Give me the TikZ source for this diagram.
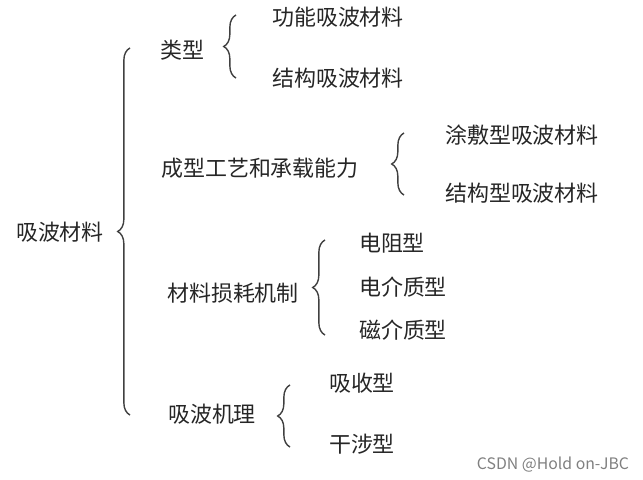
\documentclass[tikz,border=0pt]{standalone}
\usepackage{fontspec}
\setmainfont{Noto Sans CJK SC}
\usetikzlibrary{decorations.pathreplacing}
\begin{document}
\begin{tikzpicture}[x=0.02cm, y=-0.02cm,
    item/.style={font=\fontsize{12.5}{14}\selectfont, text=black!85},
    brace/.style={decorate, decoration={brace, amplitude=7pt}, thick, black!75}
]
\useasboundingbox (0,0) rectangle (643,480);

\node[item] (root) at (60,232) {吸波材料};
\draw[brace] (130,415) -- (130,48);

% first level
\node[item] (k1) at (182,50) {类型};
\node[item] (k2) at (260,168) {成型工艺和承载能力};
\node[item] (k3) at (233,293) {材料损耗机制};
\node[item] (k4) at (212,414) {吸波机理};

\draw[brace] (236,78) -- (236,15);
\node[item] (k11) at (338,17) {功能吸波材料};
\node[item] (k12) at (338,78) {结构吸波材料};

\draw[brace] (404,195) -- (404,133);
\node[item] (k21) at (522,135) {涂敷型吸波材料};
\node[item] (k22) at (522,193) {结构型吸波材料};

\draw[brace] (325,335) -- (325,240);
\node[item] (k31) at (392,243) {电阻型};
\node[item] (k32) at (403,287) {电介质型};
\node[item] (k33) at (403,330) {磁介质型};

\draw[brace] (290,447) -- (290,385);
\node[item] (k41) at (362,383) {吸收型};
\node[item] (k42) at (362,444) {干涉型};

\node[font=\fontsize{9}{10}\selectfont, text=black!50] (mark) at (553,465) {CSDN @Hold on-JBC};
\end{tikzpicture}
\end{document}
